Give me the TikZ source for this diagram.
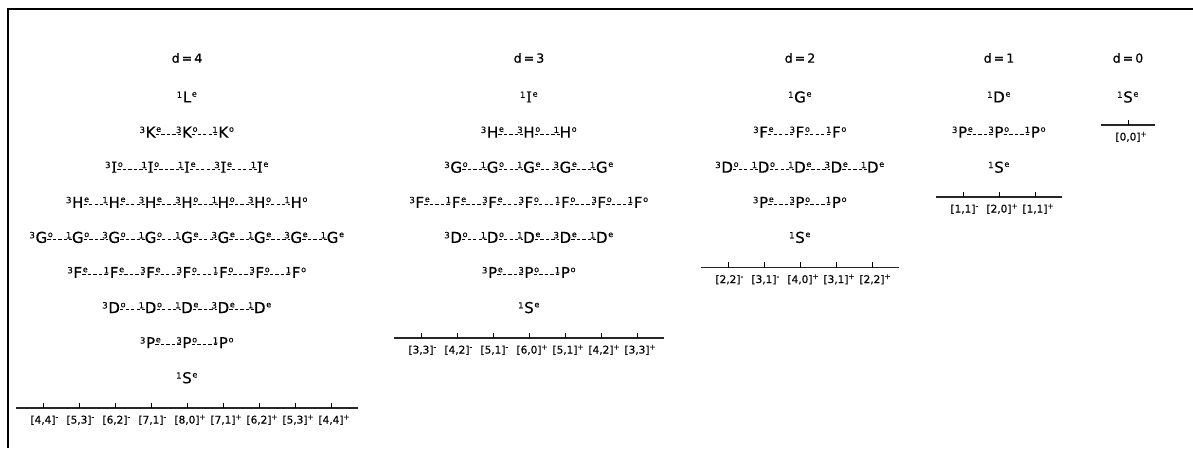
\documentclass[tikz,border=0pt]{standalone}
\usepackage{fontspec}
\setmainfont{DejaVu Sans}
\newfontfamily\termfont[FakeBold=0.3]{DejaVu Sans}
\newfontfamily\romanI[FakeBold=0.3]{DejaVu Serif}
\newfontfamily\labfont[FakeBold=0.5]{DejaVu Sans}

% small raised prefixes (multiplicity) and suffixes (parity)
\newcommand\mult[1]{\raisebox{4.6pt}{\fontsize{8.5}{8.5}\selectfont #1}}
\newcommand\parity[1]{\raisebox{5.8pt}{\fontsize{8}{8}\selectfont #1}}
\newcommand\termtext[3]{\llap{\mult{#1}\kern0.7pt}#2\rlap{\kern0.7pt\parity{#3}}}
\newcommand\RI{{\romanI I}}
\newcommand\sgn[1]{\raisebox{4pt}{\fontsize{7.5}{7.5}\selectfont #1}}

\tikzset{
  term/.style={inner sep=0pt, text height=10.9pt, text depth=0pt,
    font=\termfont\fontsize{15}{16}\selectfont},
  head/.style={inner sep=0pt, font=\labfont\fontsize{12.5}{13}\selectfont},
  link/.style={dash pattern=on 3.3pt off 2.2pt, line width=0.9pt},
  axisline/.style={line width=1.2pt, black!85},
  tickmark/.style={line width=0.8pt},
  lab/.style={inner sep=0pt, text height=8pt, text depth=2pt,
    font=\labfont\fontsize{10.5}{11}\selectfont},
  frame/.style={line width=1.3pt}
}

% one row of terms joined by dashed links
% #1 name, #2 centre x, #3 y, #4 number of terms, #5 list mult/letter/parity
\newcommand\termrow[5]{%
  \foreach \m/\L/\p [count=\i] in {#5}{
    \node[term] (#1-\i) at ({#2+(\i-(#4+1)/2)*36.4}, #3) {\termtext{\m}{\L}{\p}};
    \ifnum\i>1
      \pgfmathtruncatemacro\j{\i-1}
      \draw[link] ([yshift=-2pt]#1-\j.east) -- ([yshift=-2pt]#1-\i.west);
    \fi
  }}

% axis with ticks and [a,b]^sign labels
% #1 name, #2 centre x, #3 y, #4 number of ticks, #5 list a/b/sign
\newcommand\axisrow[5]{%
  \coordinate (#1-a) at ({#2-((#4-1)/2)*36-27}, #3);
  \coordinate (#1-b) at ({#2+((#4-1)/2)*36+27}, #3);
  \draw[axisline] (#1-a) -- (#1-b);
  \foreach \n/\k/\s [count=\i] in {#5}{
    \coordinate (#1-t\i) at ({#2+(\i-(#4+1)/2)*36}, #3);
    \coordinate (#1-u\i) at ({#2+(\i-(#4+1)/2)*36}, #3-5.5);
    \draw[tickmark] (#1-t\i) -- (#1-u\i);
    \node[lab] (#1-l\i) at ({#2+(\i-(#4+1)/2)*36}, #3+12.5) {[\n,\k]\rlap{\sgn{\s}}};
  }}

\begin{document}
\begin{tikzpicture}[x=1pt, y=-1pt]
\useasboundingbox (0,0) rectangle (1193,448);

% frame along the top and left edges
\coordinate (fr-tr) at (1193,9);
\coordinate (fr-tl) at (8,9);
\coordinate (fr-bl) at (8,448);
\draw[frame] (fr-tr) -- (fr-tl) -- (fr-bl);

% headings
\node[head] (h4) at (187,58) {d\,=\,4};
\node[head] (h3) at (529,58) {d\,=\,3};
\node[head] (h2) at (800,58) {d\,=\,2};
\node[head] (h1) at (999,58) {d\,=\,1};
\node[head] (h0) at (1128,58) {d\,=\,0};

% d = 4
\termrow{a0}{187}{97}{1}{1/L/e}
\termrow{a1}{187}{132.1}{3}{3/K/e, 3/K/o, 1/K/o}
\termrow{a2}{187}{167.2}{5}{3/\RI/o, 1/\RI/o, 1/\RI/e, 3/\RI/e, 1/\RI/e}
\termrow{a3}{187}{202.3}{7}{3/H/e, 1/H/e, 3/H/e, 3/H/o, 1/H/o, 3/H/o, 1/H/o}
\termrow{a4}{187}{237.4}{9}{3/G/o, 1/G/o, 3/G/o, 1/G/o, 1/G/e, 3/G/e, 1/G/e, 3/G/e, 1/G/e}
\termrow{a5}{187}{272.5}{7}{3/F/e, 1/F/e, 3/F/e, 3/F/o, 1/F/o, 3/F/o, 1/F/o}
\termrow{a6}{187}{307.6}{5}{3/D/o, 1/D/o, 1/D/e, 3/D/e, 1/D/e}
\termrow{a7}{187}{342.7}{3}{3/P/e, 3/P/o, 1/P/o}
\termrow{a8}{187}{377.8}{1}{1/S/e}
\axisrow{ax4}{187}{408}{9}{4/4/-, 5/3/-, 6/2/-, 7/1/-, 8/0/+, 7/1/+, 6/2/+, 5/3/+, 4/4/+}

% d = 3
\termrow{b0}{529}{97}{1}{1/\RI/e}
\termrow{b1}{529}{132.1}{3}{3/H/e, 3/H/o, 1/H/o}
\termrow{b2}{529}{167.2}{5}{3/G/o, 1/G/o, 1/G/e, 3/G/e, 1/G/e}
\termrow{b3}{529}{202.3}{7}{3/F/e, 1/F/e, 3/F/e, 3/F/o, 1/F/o, 3/F/o, 1/F/o}
\termrow{b4}{529}{237.4}{5}{3/D/o, 1/D/o, 1/D/e, 3/D/e, 1/D/e}
\termrow{b5}{529}{272.5}{3}{3/P/e, 3/P/o, 1/P/o}
\termrow{b6}{529}{307.6}{1}{1/S/e}
\axisrow{ax3}{529}{338}{7}{3/3/-, 4/2/-, 5/1/-, 6/0/+, 5/1/+, 4/2/+, 3/3/+}

% d = 2
\termrow{c0}{800}{97}{1}{1/G/e}
\termrow{c1}{800}{132.1}{3}{3/F/e, 3/F/o, 1/F/o}
\termrow{c2}{800}{167.2}{5}{3/D/o, 1/D/o, 1/D/e, 3/D/e, 1/D/e}
\termrow{c3}{800}{202.3}{3}{3/P/e, 3/P/o, 1/P/o}
\termrow{c4}{800}{237.4}{1}{1/S/e}
\axisrow{ax2}{800}{267.5}{5}{2/2/-, 3/1/-, 4/0/+, 3/1/+, 2/2/+}

% d = 1
\termrow{e0}{999}{97}{1}{1/D/e}
\termrow{e1}{999}{132.1}{3}{3/P/e, 3/P/o, 1/P/o}
\termrow{e2}{999}{167.2}{1}{1/S/e}
\axisrow{ax1}{999}{197}{3}{1/1/-, 2/0/+, 1/1/+}

% d = 0
\termrow{f0}{1128}{97}{1}{1/S/e}
\axisrow{ax0}{1128}{125}{1}{0/0/+}
\end{tikzpicture}
\end{document}
